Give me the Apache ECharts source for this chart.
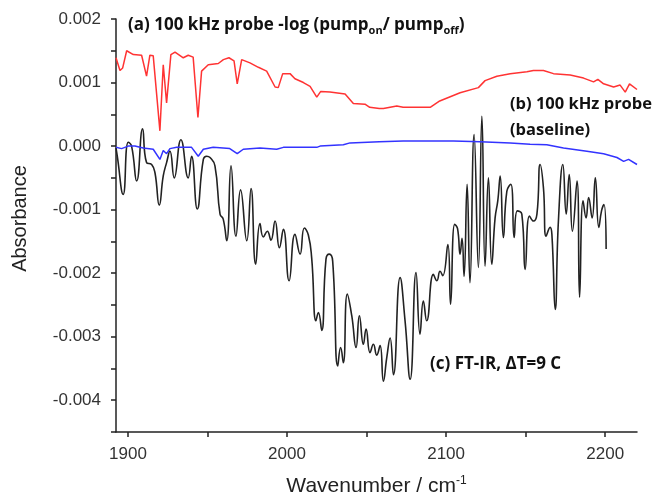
<!DOCTYPE html>
<html>
<head>
<meta charset="utf-8">
<script src="https://cdn.jsdelivr.net/npm/echarts@6/dist/echarts.min.js"></script>
<style>
  html, body { margin: 0; padding: 0; background: #fff; }
  #main { width: 656px; height: 495px; }
</style>
</head>
<body>
<div id="main"></div>
<script>
// (a) 100 kHz probe -log(pump_on / pump_off)  [wavenumber, absorbance]
var pumpProbe = [
  [1892.5, 0.00139], [1895, 0.00119], [1896.7, 0.00123], [1899.2, 0.0015], [1903.4, 0.00144],
  [1908.6, 0.00143], [1911.7, 0.0011], [1913.8, 0.00143], [1915.9, 0.00142], [1920.1, 0.00024],
  [1922.2, 0.00128], [1924.3, 0.00068], [1927, 0.00144], [1929.6, 0.00148], [1934.8, 0.00139],
  [1937.9, 0.00143], [1941, 0.0014], [1944, 0.00045], [1946.3, 0.00118], [1950.5, 0.00128],
  [1956.8, 0.0013], [1960, 0.00136], [1963.5, 0.00139], [1966.7, 0.00134], [1968.7, 0.00098],
  [1971.5, 0.00136], [1976.7, 0.00131], [1982, 0.00124], [1987.2, 0.00118], [1992.5, 0.00093],
  [1994.5, 0.00092], [1997.3, 0.00114], [2001.9, 0.00114], [2005, 0.00106], [2010.3, 0.001],
  [2014.5, 0.00094], [2018.7, 0.00077], [2021.2, 0.00086], [2027, 0.00085], [2036.5, 0.00082],
  [2041.7, 0.00067], [2049, 0.00066], [2052, 0.00061], [2058, 0.00059], [2060.6, 0.00059],
  [2069, 0.00063], [2073, 0.00061], [2090, 0.00061], [2096, 0.00071], [2108.8, 0.00084],
  [2120.3, 0.00092], [2124.5, 0.00103], [2131.9, 0.0011], [2140.3, 0.00114], [2150.8, 0.00117],
  [2154.9, 0.00119], [2161.2, 0.00119], [2167.5, 0.00114], [2178, 0.00112], [2186.4, 0.00107],
  [2192.7, 0.00101], [2195.4, 0.00105], [2199, 0.00098], [2205.3, 0.00093], [2209.4, 0.00096],
  [2212.6, 0.00085], [2215.3, 0.00098], [2220, 0.00089]
];

// (b) 100 kHz probe baseline
var baseline = [
  [1892.5, -0.00002], [1896, -0.00004], [1900.2, 0], [1904.4, 0], [1909.6, -0.00003],
  [1915.9, -0.00005], [1920.1, -0.00021], [1922.2, -0.00007], [1924.3, -0.00012], [1926.4, -0.00004],
  [1930.6, -0.00002], [1940, -0.00002], [1944.2, -0.00016], [1947.4, -0.00005], [1953.6, -0.00002],
  [1964, -0.00004], [1968.7, -0.00012], [1972.5, -0.00005], [1983, -0.00003], [1993.5, -0.00005],
  [1997.7, -0.00002], [2018.7, -0.00002], [2020.8, 0], [2035.4, 0.00002], [2039.6, 0.00005],
  [2058, 0.00007], [2073, 0.00008], [2104.6, 0.00008], [2121.4, 0.00007], [2140.3, 0.00005],
  [2152.8, 0.00003], [2163.3, 0.00002], [2173.8, -0.00003], [2188.5, -0.00008], [2199, -0.00012],
  [2207.4, -0.00018], [2211.6, -0.00024], [2214.7, -0.00021], [2220, -0.00029]
];

// (c) FT-IR, dT = 9 C
var ftir = [
  [1892.5, -0.00003], [1893.3, -0.00016], [1897, -0.00076], [1900.2, 0.00006], [1902.3, 0],
  [1905.5, -0.00055], [1909.2, 0.00027], [1911.7, -0.00026], [1914.9, -0.00029], [1917, -0.00042],
  [1919.7, -0.00093], [1922.2, -0.00047], [1924.3, -0.00026], [1926.4, -0.00008], [1929.1, -0.0005],
  [1933.3, 0.0001], [1937.9, -0.0005], [1940, -0.00016], [1943.6, -0.00099], [1947.4, -0.00021],
  [1949.5, -0.00016], [1951.6, -0.00018], [1954.7, -0.00031], [1957.9, -0.00107], [1959.9, -0.00115],
  [1962.1, -0.00149], [1964.8, -0.00031], [1967.9, -0.00142], [1970.8, -0.00069], [1974.7, -0.00149],
  [1977.4, -0.00067], [1980.3, -0.00186], [1983, -0.00122], [1985.1, -0.00143], [1987.6, -0.00134],
  [1989.9, -0.00148], [1992.5, -0.00118], [1995.2, -0.0016], [1997.7, -0.00131], [2001.3, -0.00212],
  [2005, -0.00139], [2008.2, -0.0017], [2010.9, -0.00129], [2013.4, -0.0014], [2015.5, -0.00176],
  [2018.2, -0.00275], [2019.7, -0.00262], [2021.8, -0.0029], [2024.5, -0.00178], [2026.6, -0.0017],
  [2028.7, -0.00181], [2031.9, -0.00346], [2033.7, -0.00317], [2035.4, -0.00341], [2037.9, -0.00233],
  [2040.7, -0.00267], [2043.4, -0.00317], [2045.5, -0.00267], [2048, -0.00312], [2049.7, -0.00288],
  [2052.2, -0.00325], [2054.3, -0.00312], [2056.4, -0.00329], [2058.5, -0.00314], [2060.6, -0.0037],
  [2062.7, -0.00333], [2064.8, -0.00302], [2066.9, -0.0036], [2071.1, -0.00207], [2074.2, -0.00275],
  [2077.4, -0.00367], [2081.1, -0.00199], [2083.6, -0.00296], [2085.7, -0.00244], [2087.8, -0.00275],
  [2092, -0.00202], [2094.2, -0.00212], [2096.2, -0.00197], [2097.9, -0.00204], [2101.1, -0.00155],
  [2102.8, -0.00249], [2105.4, -0.00123], [2107.2, -0.0013], [2108.8, -0.0017], [2110, -0.00145],
  [2111.3, -0.00205], [2113.2, -0.0006], [2115, -0.00215], [2117.6, 0.00018], [2120.3, -0.00191],
  [2122.5, 0.00047], [2124.5, -0.00189], [2126.6, -0.0005], [2128.7, -0.00186], [2130.8, -0.00113],
  [2132.5, -0.00086], [2134, -0.00047], [2136, -0.00144], [2138.2, -0.00071], [2140.7, -0.0006],
  [2142.8, -0.00144], [2144.8, -0.00102], [2147.6, -0.00107], [2149.7, -0.00194], [2152.4, -0.0011],
  [2154.9, -0.00118], [2157.1, -0.00107], [2159.1, -0.00029], [2161.2, -0.00066], [2162.9, -0.00142],
  [2165.4, -0.00128], [2166.5, -0.00139], [2168.6, -0.00257], [2170.6, -0.00118], [2173.4, -0.00029],
  [2175.5, -0.00107], [2177.4, -0.00045], [2179.4, -0.00134], [2182.3, -0.00055], [2183.9, -0.00238],
  [2186.1, -0.00086], [2188, -0.00113], [2189.6, -0.00081], [2191.8, -0.00113], [2193.8, -0.0005],
  [2196, -0.00128], [2197.7, -0.00102], [2199.2, -0.00092], [2200.6, -0.00162]
];

var xLabels = [1900, 2000, 2100, 2200];
var xTicks = [1900, 1950, 2000, 2050, 2100, 2150, 2200];
var yLabels = [-0.004, -0.003, -0.002, -0.001, 0, 0.001, 0.002];
var yTicks = [-0.0045, -0.004, -0.0035, -0.003, -0.0025, -0.002, -0.0015, -0.001, -0.0005, 0, 0.0005, 0.001, 0.0015, 0.002];

void (function() {
  var chart = echarts.init(document.getElementById("main"));

  var axisFont = "Liberation Sans, Arial, sans-serif";
  var noteFont = "Open Sans, Lato, sans-serif";

  var option = {
    backgroundColor: "#fff",
    animation: false,
    grid: { left: 116, top: 19, right: 19, bottom: 63, outerBoundsMode: "none" },
    xAxis: {
      type: "value",
      min: 1892.5,
      max: 2220,
      name: "{t|Wavenumber / cm}{s|-1}",
      nameLocation: "middle",
      nameGap: 43,
      nameTextStyle: {
        rich: {
          t: { fontFamily: axisFont, fontSize: 21, color: "#222", lineHeight: 22 },
          s: { fontFamily: axisFont, fontSize: 12, color: "#222", verticalAlign: "top", lineHeight: 12 }
        }
      },
      axisLine: { onZero: false, lineStyle: { color: "#222", width: 1.5 } },
      axisTick: { customValues: xTicks, length: 5, lineStyle: { color: "#222", width: 1.5 } },
      axisLabel: {
        customValues: xLabels,
        margin: 14,
        color: "#333",
        fontFamily: axisFont,
        fontSize: 17,
        formatter: function(v) {
          return String(Math.round(v));
        }
      },
      splitLine: { show: false }
    },
    yAxis: {
      type: "value",
      min: -0.0045,
      max: 0.002,
      name: "Absorbance",
      nameLocation: "middle",
      nameGap: 86,
      nameTextStyle: { fontFamily: axisFont, fontSize: 20, color: "#222", padding: [0, 0, 0, 14] },
      axisLine: { show: true, lineStyle: { color: "#222", width: 1.5 } },
      axisTick: { customValues: yTicks, length: 5, lineStyle: { color: "#222", width: 1.5 } },
      axisLabel: {
        customValues: yLabels,
        margin: 15,
        color: "#333",
        fontFamily: axisFont,
        fontSize: 17,
        formatter: function(v) {
          return (Math.abs(v) < 1e-9 ? 0 : v).toFixed(3);
        }
      },
      splitLine: { show: false }
    },
    graphic: [
      {
        type: "text",
        left: 128,
        top: 17,
        style: {
          text: "{m|(a) 100 kHz probe -log (pump}{b|on}{m|/ pump}{b|off}{m|)}",
          fill: "#111",
          rich: {
            m: { fontFamily: noteFont, fontWeight: "bold", fontSize: 17, lineHeight: 22, fill: "#111" },
            b: { fontFamily: noteFont, fontWeight: "bold", fontSize: 11, lineHeight: 8, verticalAlign: "bottom", fill: "#111" }
          }
        }
      },
      {
        type: "text",
        left: 510,
        top: 91,
        style: {
          text: "(b) 100 kHz probe\n(baseline)",
          font: "bold 16.5px " + noteFont,
          lineHeight: 26,
          fill: "#111"
        }
      },
      {
        type: "text",
        left: 430,
        top: 353,
        style: {
          text: "(c) FT-IR, \u0394T=9 C",
          font: "bold 17px " + noteFont,
          lineHeight: 22,
          fill: "#111"
        }
      }
    ],
    series: [
      {
        name: "pump-probe",
        type: "line",
        data: pumpProbe,
        showSymbol: false,
        lineStyle: { color: "#ff3333", width: 1.5 },
        z: 3
      },
      {
        name: "baseline",
        type: "line",
        data: baseline,
        showSymbol: false,
        lineStyle: { color: "#3333ff", width: 1.5 },
        z: 3
      },
      {
        name: "FT-IR",
        type: "line",
        data: ftir,
        showSymbol: false,
        smooth: 0.5,
        lineStyle: { color: "#222", width: 1.6 },
        z: 2
      }
    ]
  };

  chart.setOption(option);
})();
</script>
</body>
</html>
